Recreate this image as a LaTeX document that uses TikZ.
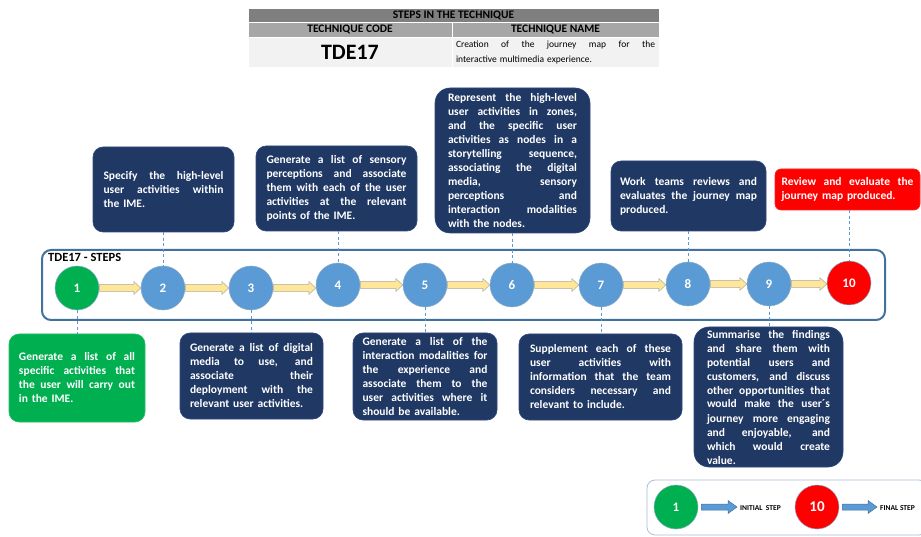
\documentclass[tikz,border=0pt]{standalone}
\usepackage{fontspec}
\setmainfont{Carlito}
\usetikzlibrary{calc}

\definecolor{navy}{HTML}{203864}
\definecolor{navyedge}{HTML}{2F4A80}
\definecolor{cgreen}{HTML}{00B050}
\definecolor{cblue}{HTML}{5B9BD5}
\definecolor{cred}{HTML}{FF0000}
\definecolor{frameblue}{HTML}{41719C}
\definecolor{arrowyellow}{HTML}{FFE699}
\definecolor{arrowedge}{HTML}{A9A9A0}
\definecolor{hdrdark}{HTML}{7F7F7F}
\definecolor{hdrmid}{HTML}{A6A6A6}
\definecolor{hdrlight}{HTML}{F2F2F2}
\definecolor{legedge}{HTML}{A9BCD6}

% one justified line / one natural-width closing line
\newlength\jlw
\newcommand\jl[1]{\hbox to\jlw{\spaceskip=\fontdimen2\font plus 1fil\relax #1}\par}
\newcommand\lastl[1]{\hbox{#1}\par}

% block arrow between two points: style, from, to, half shaft, half head, head length
\newcommand\blockarrow[6]{%
  \path[#1] let \p1=(#2), \p2=(#3) in
    ({\x1},{\y1+#4}) -- ({\x2-#6},{\y1+#4}) -- ({\x2-#6},{\y1+#5}) --
    ({\x2},{\y1}) -- ({\x2-#6},{\y1-#5}) -- ({\x2-#6},{\y1-#4}) --
    ({\x1},{\y1-#4}) -- cycle;}

\begin{document}
\begin{tikzpicture}[x=1pt,y=-1pt,
  jbox/.style={text width=#1, execute at begin node={\setlength\jlw{#1}}},
  box/.style={rounded corners=10pt, fill=navy, draw=navyedge, line width=0.6pt,
    text=white, inner sep=0pt,
    font=\fontsize{11.5}{14}\selectfont\bfseries},
  greenbox/.style={box, fill=cgreen, draw=cgreen!85!white},
  redbox/.style={box, fill=cred, draw=cred!85!white, rounded corners=6pt},
  stepc/.style={circle, minimum size=44pt, inner sep=0pt, draw=frameblue!60,
    line width=0.5pt, text=white, font=\fontsize{13}{15}\selectfont\bfseries},
  yarrow/.style={fill=arrowyellow, draw=arrowedge, line width=0.5pt},
  barrow/.style={fill=cblue, draw=frameblue, line width=0.5pt},
  dashc/.style={draw=cblue, line width=0.8pt, dash pattern=on 3pt off 2.5pt},
  cell/.style={inner sep=0pt, draw=white, line width=0.8pt},
  legtext/.style={anchor=west, inner sep=0pt, font=\fontsize{7.5}{9}\selectfont\bfseries}
]
\useasboundingbox (0,0) rectangle (921,537);

% ---- header table ----
\node[cell, fill=hdrdark, minimum width=411pt, minimum height=14pt,
  font=\fontsize{11.5}{12}\selectfont\bfseries] (hdr) at (453.5,15) {STEPS IN THE TECHNIQUE};
\node[cell, fill=hdrmid, minimum width=204pt, minimum height=15pt,
  font=\fontsize{11.5}{12}\selectfont\bfseries] (hcode) at (350,29.5) {TECHNIQUE CODE};
\node[cell, fill=hdrmid, minimum width=207pt, minimum height=15pt,
  font=\fontsize{11.5}{12}\selectfont\bfseries] (hname) at (555.5,29.5) {TECHNIQUE NAME};
\node[cell, fill=hdrlight, minimum width=204pt, minimum height=30pt,
  font=\fontsize{22}{24}\selectfont\bfseries] (vcode) at (350,52) {TDE17};
\node[cell, fill=hdrlight, minimum width=207pt, minimum height=30pt, jbox=199pt,
  font=\fontsize{9.5}{15}\selectfont] (vname) at (555.5,52)
  {\jl{Creation of the journey map for the}\lastl{interactive multimedia experience.}};

% ---- steps frame ----
\node[draw=frameblue, line width=2pt, rounded corners=9pt, minimum width=843pt,
  minimum height=70pt, inner sep=0pt] (frame) at (463.5,285) {};
\node[anchor=west, inner sep=0pt, font=\fontsize{12.5}{14}\selectfont\bfseries]
  (frlabel) at (48,257) {TDE17 - STEPS};

% ---- step circles ----
\node[stepc, fill=cgreen] (c1) at (77,288) {1};
\node[stepc, fill=cblue] (c2) at (163,288) {2};
\node[stepc, fill=cblue] (c3) at (251,288) {3};
\node[stepc, fill=cblue] (c4) at (338,285) {4};
\node[stepc, fill=cblue] (c5) at (425,285) {5};
\node[stepc, fill=cblue] (c6) at (512,285) {6};
\node[stepc, fill=cblue] (c7) at (601,285) {7};
\node[stepc, fill=cblue] (c8) at (688,284) {8};
\node[stepc, fill=cblue] (c9) at (769,284) {9};
\node[stepc, fill=cred] (c10) at (849,283) {10};

% ---- arrows between steps ----
\foreach \a/\b in {c1/c2,c2/c3,c3/c4,c4/c5,c5/c6,c6/c7,c7/c8,c8/c9,c9/c10}
  {\blockarrow{yarrow}{\a.east}{\b.west}{3.5pt}{6.5pt}{7pt}}

% ---- description boxes ----
\node[greenbox, minimum width=136pt, minimum height=88pt, jbox=116pt] (b1) at (77,378)
  {\jl{Generate a list of all}\jl{specific activities that}\jl{the user will carry out}\lastl{in the IME.}};
\node[box, minimum width=141pt, minimum height=85pt, jbox=120pt] (b2) at (163.5,189.5)
  {\jl{Specify the high-level}\jl{user activities within}\lastl{the IME.}};
\node[box, minimum width=143pt, minimum height=86pt, jbox=123pt] (b3) at (251.5,376)
  {\jl{Generate a list of digital}\jl{media to use, and}\jl{associate their}\jl{deployment with the}\lastl{relevant user activities.}};
\node[box, minimum width=161pt, minimum height=85pt, jbox=140pt] (b4) at (336.5,188.5)
  {\jl{Generate a list of sensory}\jl{perceptions and associate}\jl{them with each of the user}\jl{activities at the relevant}\lastl{points of the IME.}};
\node[box, minimum width=144pt, minimum height=87pt, jbox=125pt] (b5) at (425,376.5)
  {\jl{Generate a list of the}\jl{interaction modalities for}\jl{the experience and}\jl{associate them to the}\jl{user activities where it}\lastl{should be available.}};
\node[box, rounded corners=15pt, minimum width=155pt, minimum height=145pt, jbox=129pt] (b6) at (512.5,160.5)
  {\jl{Represent the high-level}\jl{user activities in zones,}\jl{and the specific user}\jl{activities as nodes in a}\jl{storytelling sequence,}\jl{associating the digital}\jl{media, sensory}\jl{perceptions and}\jl{interaction modalities}\lastl{with the nodes.}};
\node[box, minimum width=163pt, minimum height=86pt, jbox=141pt] (b7) at (600.5,377)
  {\jl{Supplement each of these}\jl{user activities with}\jl{information that the team}\jl{considers necessary and}\lastl{relevant to include.}};
\node[box, minimum width=155pt, minimum height=70pt, jbox=137pt] (b8) at (688.5,196)
  {\jl{Work teams reviews and}\jl{evaluates the journey map}\lastl{produced.}};
\node[box, rounded corners=15pt, minimum width=149pt, minimum height=140pt, jbox=123pt] (b9) at (768.5,397)
  {\jl{Summarise the findings}\jl{and share them with}\jl{potential users and}\jl{customers, and discuss}\jl{other opportunities that}\jl{would make the user´s}\jl{journey more engaging}\jl{and enjoyable, and}\jl{which would create}\lastl{value.}};
\node[redbox, minimum width=145pt, minimum height=41pt, jbox=132pt] (b10) at (847.5,189.5)
  {\jl{Review and evaluate the}\lastl{journey map produced.}};

% ---- dashed links between steps and boxes ----
\draw[dashc] (c1.south) -- (b1.north -| c1);
\draw[dashc] (b2.south -| c2) -- (c2.north);
\draw[dashc] (c3.south) -- (b3.north -| c3);
\draw[dashc] (b4.south -| c4) -- (c4.north);
\draw[dashc] (c5.south) -- (b5.north -| c5);
\draw[dashc] (b6.south -| c6) -- (c6.north);
\draw[dashc] (c7.south) -- (b7.north -| c7);
\draw[dashc] (b8.south -| c8) -- (c8.north);
\draw[dashc] (c9.south) -- (b9.north -| c9);
\draw[dashc] (b10.south -| c10) -- (c10.north);

% ---- legend ----
\node[draw=legedge, line width=0.8pt, rounded corners=8pt, minimum width=280pt,
  minimum height=55pt, inner sep=0pt] (legend) at (787,507.5) {};
\node[stepc, fill=cgreen] (lg1) at (676,507) {1};
\node[legtext] (lgt1) at (740,508) {INITIAL\ \ STEP};
\node[stepc, fill=cred, font=\fontsize{15}{17}\selectfont\bfseries] (lg10) at (817,507) {10};
\node[legtext] (lgt10) at (880,508) {FINAL STEP};
\blockarrow{barrow}{$(lg1.east)+(3,0)$}{$(lgt1.west)+(-3,0)$}{3pt}{6.5pt}{9pt}
\blockarrow{barrow}{$(lg10.east)+(3,0)$}{$(lgt10.west)+(-3,0)$}{3pt}{6.5pt}{9pt}
\end{tikzpicture}
\end{document}
